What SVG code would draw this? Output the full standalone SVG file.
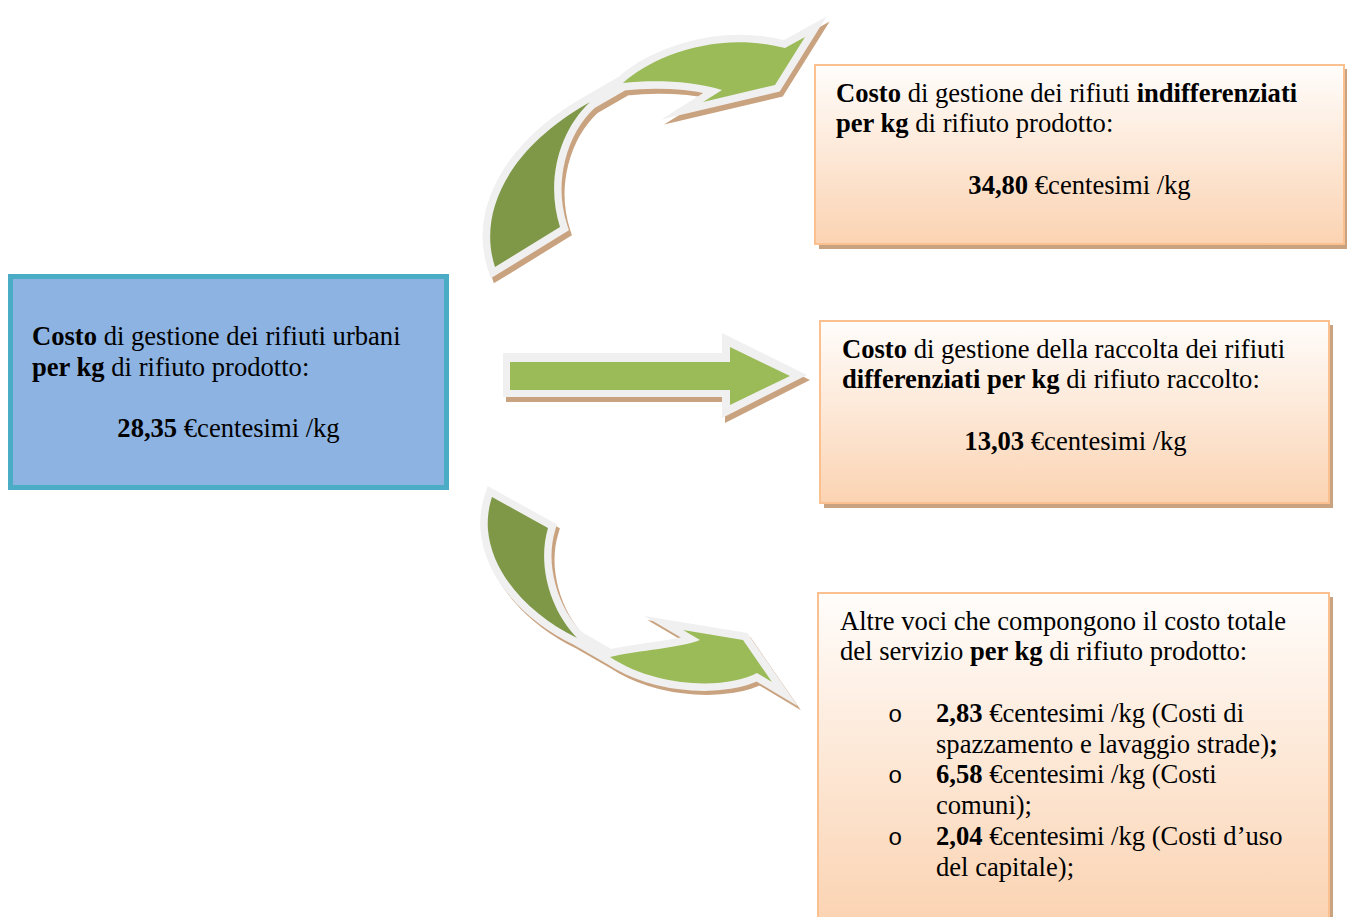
<svg xmlns="http://www.w3.org/2000/svg" width="1347" height="917" viewBox="0 0 1347 917">
<defs>
<linearGradient id="peach" x1="0" y1="0" x2="0" y2="1">
<stop offset="0" stop-color="#fffdfb"/>
<stop offset="1" stop-color="#fbd3b2"/>
</linearGradient>
<style>
text{font-family:"Liberation Serif","Times New Roman",serif;font-size:26.6px;fill:#000}
.b{font-weight:bold}
.pbox{fill:url(#peach);stroke:#fac08f;stroke-width:2}
.shadow{fill:#c9a27f}
.arrowShadow{fill:#c9a27f;stroke:#c9a27f;stroke-width:15;stroke-linejoin:miter;stroke-miterlimit:12}
.arrowOutline{fill:#f0f0f0;stroke:#f0f0f0;stroke-width:15;stroke-linejoin:miter;stroke-miterlimit:12}
.dark{fill:#7f9848}
.light{fill:#9bbb59}
</style>
</defs>
<rect width="1347" height="917" fill="#ffffff"/>

<g id="connectors">
<g id="arrow-top">
<path class="arrowShadow" transform="translate(3,5)" d="M495,267 C478,215 505,150 590,102 L623,83 C650,58 715,30 785,48 L805,37 L775,85 L703,102 L722,90 C690,80 650,80 623,83 L590,102 C560,130 545,180 560,227 Z"/>
<path class="arrowOutline" d="M495,267 C478,215 505,150 590,102 L623,83 C650,58 715,30 785,48 L805,37 L775,85 L703,102 L722,90 C690,80 650,80 623,83 L590,102 C560,130 545,180 560,227 Z"/>
<path class="dark" d="M495,267 C478,215 505,150 590,102 C560,130 545,180 560,227 Z"/>
<path class="light" d="M623,83 C650,58 715,30 785,48 L805,37 L775,85 L703,102 L722,90 C690,80 650,80 623,83 Z"/>
</g>
<g id="arrow-middle">
<path class="shadow" transform="translate(3,5)" d="M503,353 L722,353 L722,333 L807,375 L722,418 L722,397 L503,397 Z"/>
<path fill="#f0f0f0" d="M503,353 L722,353 L722,333 L807,375 L722,418 L722,397 L503,397 Z"/>
<path class="light" d="M510,362 L730,362 L730,347 L790,376 L730,405 L730,390 L510,390 Z"/>
</g>
<g id="arrow-bottom">
<path class="arrowShadow" transform="translate(3,4)" d="M492,497 L548,528 C537,565 550,610 577,638 L610,657 C640,650 680,648 700,640 L683,630 L743,640 L772,682 L757,673 C730,688 660,690 610,657 L577,638 C530,615 492,575 488,530 C487,518 489,506 492,497 Z"/>
<path class="arrowOutline" d="M492,497 L548,528 C537,565 550,610 577,638 L610,657 C640,650 680,648 700,640 L683,630 L743,640 L772,682 L757,673 C730,688 660,690 610,657 L577,638 C530,615 492,575 488,530 C487,518 489,506 492,497 Z"/>
<path class="dark" d="M492,497 L548,528 C537,565 550,610 577,638 C530,615 492,575 488,530 C487,518 489,506 492,497 Z"/>
<path class="light" d="M610,657 C640,650 680,648 700,640 L683,630 L743,640 L772,682 L757,673 C730,688 660,690 610,657 Z"/>
</g>
</g>

<g id="node-main">
<rect x="10.5" y="276.5" width="436" height="211" fill="#8db3e2" stroke="#4bacc6" stroke-width="5"/>
<text x="32" y="345"><tspan class="b">Costo</tspan> di gestione dei rifiuti urbani</text>
<text x="32" y="376"><tspan class="b">per kg</tspan> di rifiuto prodotto:</text>
<text x="228.5" y="437" text-anchor="middle"><tspan class="b">28,35</tspan> €centesimi /kg</text>
</g>

<g id="node-indifferenziati">
<rect class="shadow" x="819" y="69" width="529" height="180"/>
<rect class="pbox" x="815" y="65" width="529" height="179"/>
<text x="836" y="102"><tspan class="b">Costo</tspan> di gestione dei rifiuti <tspan class="b">indifferenziati</tspan></text>
<text x="836" y="132"><tspan class="b">per kg</tspan> di rifiuto prodotto:</text>
<text x="1079.5" y="194" text-anchor="middle"><tspan class="b">34,80</tspan> €centesimi /kg</text>
</g>

<g id="node-differenziati">
<rect class="shadow" x="824" y="325" width="509" height="183"/>
<rect class="pbox" x="820" y="321" width="509" height="182"/>
<text x="842" y="358"><tspan class="b">Costo</tspan> di gestione della raccolta dei rifiuti</text>
<text x="842" y="388"><tspan class="b">differenziati per kg</tspan> di rifiuto raccolto:</text>
<text x="1075.5" y="450" text-anchor="middle"><tspan class="b">13,03</tspan> €centesimi /kg</text>
</g>

<g id="node-altre">
<rect class="shadow" x="822" y="597" width="511" height="330"/>
<rect class="pbox" x="818" y="593" width="511" height="330"/>
<text x="840" y="630">Altre voci che compongono il costo totale</text>
<text x="840" y="660">del servizio <tspan class="b">per kg</tspan> di rifiuto prodotto:</text>
<text x="888" y="722" style="font-family:'Liberation Mono','Courier New',monospace;font-size:24px">o</text>
<text x="936" y="722"><tspan class="b">2,83</tspan> €centesimi /kg (Costi di</text>
<text x="936" y="753">spazzamento e lavaggio strade)<tspan class="b">;</tspan></text>
<text x="888" y="783" style="font-family:'Liberation Mono','Courier New',monospace;font-size:24px">o</text>
<text x="936" y="783"><tspan class="b">6,58</tspan> €centesimi /kg (Costi</text>
<text x="936" y="814">comuni);</text>
<text x="888" y="845" style="font-family:'Liberation Mono','Courier New',monospace;font-size:24px">o</text>
<text x="936" y="845"><tspan class="b">2,04</tspan> €centesimi /kg (Costi d’uso</text>
<text x="936" y="876">del capitale);</text>
</g>
</svg>
